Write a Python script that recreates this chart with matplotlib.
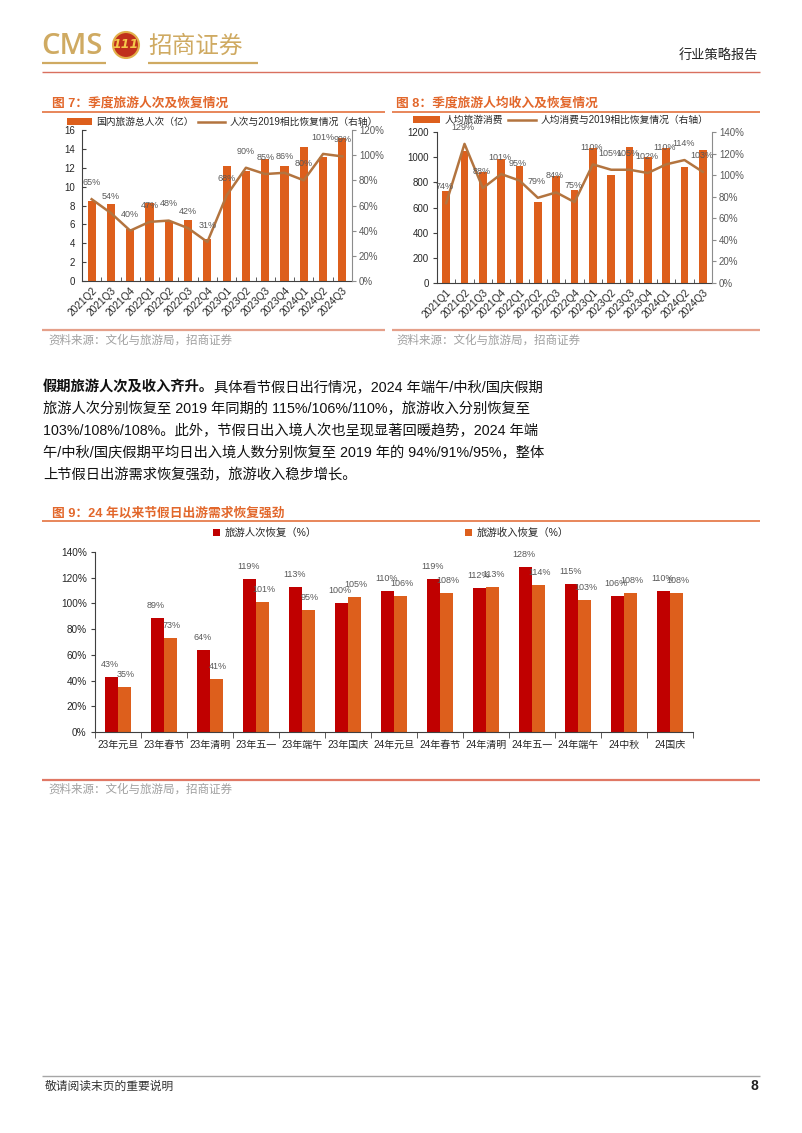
import matplotlib
matplotlib.use('Agg')
import matplotlib.pyplot as plt
from matplotlib.patches import Patch, Circle
from matplotlib.lines import Line2D
from matplotlib.legend import Legend
from matplotlib.ticker import FuncFormatter, FixedLocator
import numpy as np

plt.rcParams['font.family'] = ['Noto Sans CJK SC', 'DejaVu Sans']
plt.rcParams['axes.unicode_minus'] = False
MIX = ['Liberation Sans', 'Noto Sans CJK SC', 'DejaVu Sans']

# ---------------- data ----------------
q7_labels = ['2021Q2', '2021Q3', '2021Q4', '2022Q1', '2022Q2', '2022Q3', '2022Q4',
             '2023Q1', '2023Q2', '2023Q3', '2023Q4', '2024Q1', '2024Q2', '2024Q3']
q7_trips = [8.5, 8.2, 5.5, 8.3, 6.4, 6.5, 4.4, 12.2, 11.7, 12.9, 12.2, 14.2, 13.1, 15.1]
q7_recovery = [65, 54, 40, 47, 48, 42, 31, 68, 90, 85, 86, 80, 101, 99]

q8_labels = ['2021Q1', '2021Q2', '2021Q3', '2021Q4', '2022Q1', '2022Q2', '2022Q3', '2022Q4',
             '2023Q1', '2023Q2', '2023Q3', '2023Q4', '2024Q1', '2024Q2', '2024Q3']
q8_spend = [728, 1048, 885, 985, 930, 642, 851, 736, 1069, 859, 1077, 1003, 1069, 925, 1056]
q8_recovery = [74, 129, 88, 101, 95, 79, 84, 75, 110, 105, 105, 102, 110, 114, 103]

h_labels = ['23年元旦', '23年春节', '23年清明', '23年五一', '23年端午', '23年国庆', '24年元旦',
            '24年春节', '24年清明', '24年五一', '24年端午', '24中秋', '24国庆']
h_trips = [43, 89, 64, 119, 113, 100, 110, 119, 112, 128, 115, 106, 110]
h_income = [35, 73, 41, 101, 95, 105, 106, 108, 113, 114, 103, 108, 108]

# ---------------- style ----------------
W, H = 802, 1133
ORANGE = '#DD5F1C'
RED = '#C00000'
LINEC = '#B3743F'
GOLD = '#CFAA62'
TITLEC = '#E2672B'
GREYTXT = '#595959'
AXC = '#404040'

fig = plt.figure(figsize=(W / 100, H / 100), dpi=100)
bg = fig.add_axes([0, 0, 1, 1], zorder=-10)
bg.set_xlim(0, W)
bg.set_ylim(H, 0)
bg.axis('off')


def axrect(l, t, r, b):
    return [l / W, 1 - b / H, (r - l) / W, (b - t) / H]


def hline(x0, x1, y, color, lw):
    bg.plot([x0, x1], [y, y], color=color, lw=lw, solid_capstyle='butt')


def legend_item(handle, label, x, y, fs, hl, hh=0.7, pad=0.4):
    leg = Legend(bg, [handle], [label], loc='center left', bbox_to_anchor=(x, y),
                 bbox_transform=bg.transData, frameon=False, borderpad=0,
                 borderaxespad=0, handlelength=hl, handleheight=hh,
                 handletextpad=pad,
                 prop={'family': MIX, 'size': fs, 'weight': 'normal'})
    for t in leg.get_texts():
        t.set_color('#262626')
    bg.add_artist(leg)


pct = FuncFormatter(lambda v, p: f'{v:.0f}%')

# ---------------- header ----------------
bg.text(41, 46, 'CMS', fontsize=21, color=GOLD, fontweight='semibold',
        family=['Open Sans', 'DejaVu Sans'], ha='left', va='center')
hline(42, 106, 63, GOLD, 1.6)
bg.add_patch(Circle((126, 45), 13, facecolor='#C0301C', edgecolor='#E2B04A', lw=1.5))
bg.text(126, 45, '111', fontsize=9, color='#F5C84A', fontweight='bold', style='italic',
        family='DejaVu Sans', ha='center', va='center')
bg.text(148, 46, '招商证券', fontsize=17, color=GOLD, fontweight='medium', ha='left', va='center')
hline(148, 258, 63, GOLD, 1.6)
bg.text(758, 55, '行业策略报告', fontsize=9.5, color='#222222', ha='right', va='center')
hline(42, 760, 72, '#D9705F', 1.0)

# ---------------- figure titles / sources ----------------
bg.text(52, 103, '图 7：季度旅游人次及恢复情况', fontsize=9.2, fontweight='bold',
        color=TITLEC, family=MIX, ha='left', va='center')
hline(42, 385, 112, '#E8865A', 1.4)
bg.text(396, 103, '图 8：季度旅游人均收入及恢复情况', fontsize=9.2, fontweight='bold',
        color=TITLEC, family=MIX, ha='left', va='center')
hline(392, 760, 112, '#E8865A', 1.4)
hline(42, 385, 330, '#E5A08A', 1.6)
hline(392, 760, 330, '#E5A08A', 1.6)
bg.text(48, 340, '资料来源：文化与旅游局，招商证券', fontsize=8.3, color='#A0A0A0',
        ha='left', va='center')
bg.text(396, 340, '资料来源：文化与旅游局，招商证券', fontsize=8.3, color='#A0A0A0',
        ha='left', va='center')

# ---------------- chart 7 ----------------
x7 = np.arange(len(q7_labels))
ax7 = fig.add_axes(axrect(82, 130, 352, 281))
ax7.patch.set_alpha(0)
ax7.bar(x7, q7_trips, width=0.42, color=ORANGE, zorder=2)
ax7.set_xlim(-0.5, len(q7_labels) - 0.5)
ax7.set_ylim(0, 16)
ax7.set_yticks(np.arange(0, 17, 2))
ax7.set_xticks(x7)
ax7.set_xticklabels(q7_labels, rotation=45, ha='right', va='top', rotation_mode='anchor',
                    family=MIX, fontsize=7.3, color='#262626')
ax7.xaxis.set_minor_locator(FixedLocator(np.arange(-0.5, len(q7_labels), 1)))
ax7.tick_params(axis='x', which='major', length=0, pad=3)
ax7.tick_params(axis='x', which='minor', length=3, direction='in', color=AXC)
ax7.tick_params(axis='y', length=3, direction='in', color=AXC, labelsize=7, pad=5,
                labelcolor='#262626')
for lab in ax7.get_yticklabels():
    lab.set_family(MIX)
for s in ['top', 'right']:
    ax7.spines[s].set_visible(False)
ax7.spines['left'].set_color(AXC)
ax7.spines['bottom'].set_color(AXC)

ax72 = ax7.twinx()
ax72.plot(x7, q7_recovery, color=LINEC, lw=1.8, zorder=3)
ax72.set_ylim(0, 120)
ax72.set_yticks(np.arange(0, 121, 20))
ax72.yaxis.set_major_formatter(pct)
ax72.tick_params(axis='y', length=3, direction='out', color='#8C8C8C', labelsize=7,
                 pad=2, labelcolor='#595959')
for lab in ax72.get_yticklabels():
    lab.set_family(MIX)
for s in ['top', 'left', 'bottom']:
    ax72.spines[s].set_visible(False)
ax72.spines['right'].set_color('#8C8C8C')
for xi, v in zip(x7, q7_recovery):
    ax72.annotate(f'{v}%', (xi, v), xytext=(0, 12), textcoords='offset points',
                  ha='center', va='center', fontsize=6.5, color=GREYTXT, family=MIX)

legend_item(Patch(facecolor=ORANGE), '国内旅游总人次（亿）', 67, 122, 7, 2.6, 0.6)
legend_item(Line2D([], [], color=LINEC, lw=1.8), '人次与2019相比恢复情况（右轴）', 198, 122, 7, 2.8)

# ---------------- chart 8 ----------------
x8 = np.arange(len(q8_labels))
ax8 = fig.add_axes(axrect(437, 132, 712, 283))
ax8.patch.set_alpha(0)
ax8.bar(x8, q8_spend, width=0.42, color=ORANGE, zorder=2)
ax8.set_xlim(-0.5, len(q8_labels) - 0.5)
ax8.set_ylim(0, 1200)
ax8.set_yticks(np.arange(0, 1201, 200))
ax8.set_xticks(x8)
ax8.set_xticklabels(q8_labels, rotation=45, ha='right', va='top', rotation_mode='anchor',
                    family=MIX, fontsize=7.3, color='#262626')
ax8.xaxis.set_minor_locator(FixedLocator(np.arange(-0.5, len(q8_labels), 1)))
ax8.tick_params(axis='x', which='major', length=0, pad=3)
ax8.tick_params(axis='x', which='minor', length=3, direction='in', color=AXC)
ax8.tick_params(axis='y', length=3, direction='out', color=AXC, labelsize=7, pad=3,
                labelcolor='#262626')
for lab in ax8.get_yticklabels():
    lab.set_family(MIX)
for s in ['top', 'right']:
    ax8.spines[s].set_visible(False)
ax8.spines['left'].set_color(AXC)
ax8.spines['bottom'].set_color(AXC)

ax82 = ax8.twinx()
ax82.plot(x8, q8_recovery, color=LINEC, lw=1.8, zorder=3)
ax82.set_ylim(0, 140)
ax82.set_yticks(np.arange(0, 141, 20))
ax82.yaxis.set_major_formatter(pct)
ax82.tick_params(axis='y', length=3, direction='out', color='#8C8C8C', labelsize=7,
                 pad=2, labelcolor='#595959')
for lab in ax82.get_yticklabels():
    lab.set_family(MIX)
for s in ['top', 'left', 'bottom']:
    ax82.spines[s].set_visible(False)
ax82.spines['right'].set_color('#8C8C8C')
for xi, v in zip(x8, q8_recovery):
    ax82.annotate(f'{v}%', (xi, v), xytext=(-1, 12), textcoords='offset points',
                  ha='center', va='center', fontsize=6.5, color=GREYTXT, family=MIX)

legend_item(Patch(facecolor=ORANGE), '人均旅游消费', 413, 120, 7, 2.8, 0.6)
legend_item(Line2D([], [], color=LINEC, lw=1.8), '人均消费与2019相比恢复情况（右轴）', 508, 120, 7, 2.9)

# ---------------- paragraph ----------------
PFS = 10.3
py = [387, 409, 431, 453, 475]
t1 = bg.text(43, py[0], '假期旅游人次及收入齐升。', fontsize=PFS, fontweight='bold',
             family=MIX, ha='left', va='center', color='#111111')
bg.annotate('具体看节假日出行情况，2024 年端午/中秋/国庆假期', xy=(1, 0.5), xycoords=t1,
            ha='left', va='center', fontsize=PFS, family=MIX, color='#111111')
rest = ['旅游人次分别恢复至 2019 年同期的 115%/106%/110%，旅游收入分别恢复至',
        '103%/108%/108%。此外，节假日出入境人次也呈现显著回暖趋势，2024 年端',
        '午/中秋/国庆假期平均日出入境人数分别恢复至 2019 年的 94%/91%/95%，整体',
        '上节假日出游需求恢复强劲，旅游收入稳步增长。']
for yy, line in zip(py[1:], rest):
    bg.text(43, yy, line, fontsize=PFS, family=MIX, ha='left', va='center', color='#111111')

# ---------------- chart 9 ----------------
bg.text(52, 513, '图 9：24 年以来节假日出游需求恢复强劲', fontsize=9.2, fontweight='bold',
        color=TITLEC, family=MIX, ha='left', va='center')
hline(42, 760, 521, '#E8865A', 1.4)

x9 = np.arange(len(h_labels))
ax9 = fig.add_axes(axrect(95, 552, 693, 732))
ax9.patch.set_alpha(0)
bw = 0.28
ax9.bar(x9 - bw / 2, h_trips, width=bw, color=RED, zorder=2)
ax9.bar(x9 + bw / 2, h_income, width=bw, color=ORANGE, zorder=2)
ax9.set_xlim(-0.5, len(h_labels) - 0.5)
ax9.set_ylim(0, 140)
ax9.set_yticks(np.arange(0, 141, 20))
ax9.yaxis.set_major_formatter(pct)
ax9.set_xticks(x9)
ax9.set_xticklabels(h_labels, family=MIX, fontsize=7.2, color='#262626')
ax9.xaxis.set_minor_locator(FixedLocator(np.arange(-0.5, len(h_labels), 1)))
ax9.tick_params(axis='x', which='major', length=0, pad=6)
ax9.tick_params(axis='x', which='minor', length=4, direction='out', color=AXC)
ax9.tick_params(axis='y', length=3, direction='out', color=AXC, labelsize=7.2, pad=3,
                labelcolor='#262626')
for lab in ax9.get_yticklabels():
    lab.set_family(MIX)
for s in ['top', 'right']:
    ax9.spines[s].set_visible(False)
ax9.spines['left'].set_color(AXC)
ax9.spines['bottom'].set_color(AXC)
for xi, v in zip(x9, h_trips):
    ax9.annotate(f'{v}%', (xi - bw / 2, v), xytext=(-1, 9), textcoords='offset points',
                 ha='center', va='center', fontsize=6.5, color=GREYTXT, family=MIX)
for xi, v in zip(x9, h_income):
    ax9.annotate(f'{v}%', (xi + bw / 2, v), xytext=(1, 9), textcoords='offset points',
                 ha='center', va='center', fontsize=6.5, color=GREYTXT, family=MIX)

legend_item(Patch(facecolor=RED), '旅游人次恢复（%）', 213, 533, 7.5, 0.7, 0.7)
legend_item(Patch(facecolor=ORANGE), '旅游收入恢复（%）', 465, 533, 7.5, 0.7, 0.7)

hline(42, 760, 780, '#E07865', 1.6)
bg.text(48, 789, '资料来源：文化与旅游局，招商证券', fontsize=8.3, color='#A0A0A0',
        ha='left', va='center')

# ---------------- footer ----------------
hline(42, 760, 1076, '#A6A6A6', 1.0)
bg.text(45, 1086, '敬请阅读末页的重要说明', fontsize=8.5, color='#333333', ha='left', va='center')
bg.text(758, 1086, '8', fontsize=10, fontweight='bold', color='#222222', ha='right',
        va='center', family='Liberation Sans')

fig.savefig('out.png', dpi=100)
